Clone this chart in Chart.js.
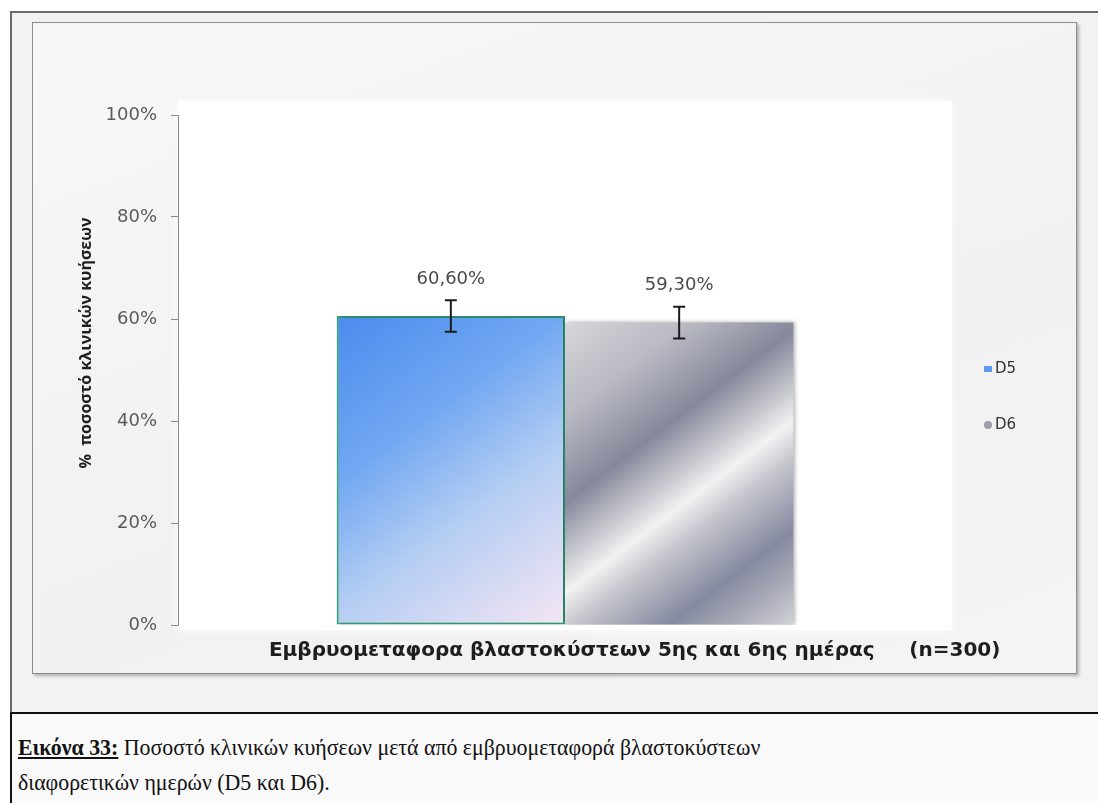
<!DOCTYPE html>
<html>
<head>
<meta charset="utf-8">
<script src="https://cdn.jsdelivr.net/npm/chart.js@4.4.1/dist/chart.umd.min.js"></script>
<style>
  body { margin: 0; background: #fff; width: 1098px; height: 803px; overflow: hidden; position: relative; }
  #frame {
    position: absolute; left: 10px; top: 11px; width: 1100px; height: 700px;
    border-left: 2px solid #6b6b6b; border-top: 2px solid #6b6b6b;
    background: #f2f2f2;
  }
  #card {
    position: absolute; left: 32px; top: 22px; width: 1043px; height: 650px;
    border: 1px solid #8d8d8d;
    box-shadow: 2px 2px 3px rgba(0,0,0,0.28);
    background: linear-gradient(160deg, #f7f7f7 0%, #f1f1f1 60%, #f4f4f4 100%);
  }
  #caption {
    position: absolute; left: 10px; top: 712px; width: 1100px; height: 100px;
    border-left: 2px solid #111; border-top: 2px solid #111;
    background: #f9f9f9;
  }
  #caption p {
    margin: 0; position: absolute; left: 6px; top: 16px;
    font-family: "Liberation Serif", "Times New Roman", serif;
    font-size: 24px; line-height: 35px; color: #111;
    transform: scale(0.91, 1); transform-origin: left top; white-space: nowrap;
  }
  #caption u { font-weight: bold; }
</style>
</head>
<body>
<div id="frame"></div>
<div id="card"><canvas id="myChart" width="1043" height="650"></canvas></div>
<div id="caption">
  <p><u>Εικόνα 33:</u> Ποσοστό κλινικών κυήσεων μετά από εμβρυομεταφορά βλαστοκύστεων<br>διαφορετικών ημερών (D5 και D6).</p>
</div>

<script>
// Clinical pregnancy rate for day-5 vs day-6 blastocyst transfer
const categories = [""];
const seriesNames = ["D5", "D6"];
const seriesValues = [60.6, 59.3];
const errorValues = [3.1, 3.1];
const legendColors = ["#5b9af0", "#9c9ca6"];
const yTicks = [0, 20, 40, 60, 80, 100];
const xTitle = "Εμβρυομεταφορα βλαστοκύστεων 5ης και 6ης ημέρας     (n=300)";
const yTitle = "%  ποσοστό κλινικών κυήσεων";

const catPct = 0.59;
const tickFont = "DejaVu Sans";

// bar rectangle for a dataset, from the scales
function barBox(chart, di) {
  const x = chart.scales.x, y = chart.scales.y;
  const center = x.getPixelForValue(0);
  const band = chart.chartArea.width * catPct;
  const left = di === 0 ? center - band / 2 : center;
  return { left: left, right: left + band / 2, top: y.getPixelForValue(seriesValues[di]), bottom: y.getPixelForValue(0) };
}

function blueFill(context) {
  const chart = context.chart;
  if (!chart.chartArea) return legendColors[0];
  const b = barBox(chart, 0);
  const g = chart.ctx.createLinearGradient(b.left, b.top, b.right, b.bottom);
  g.addColorStop(0, "#4b8bee");
  g.addColorStop(0.35, "#72a8f2");
  g.addColorStop(0.62, "#b4cdf3");
  g.addColorStop(0.85, "#dcdcf3");
  g.addColorStop(1, "#f3e6f4");
  return g;
}

function silverFill(context) {
  const chart = context.chart;
  if (!chart.chartArea) return legendColors[1];
  const b = barBox(chart, 1);
  const g = chart.ctx.createLinearGradient(b.left, b.top, b.right, b.bottom);
  g.addColorStop(0, "#d6d6da");
  g.addColorStop(0.2, "#b8b9c2");
  g.addColorStop(0.38, "#85889b");
  g.addColorStop(0.5, "#c9cad0");
  g.addColorStop(0.57, "#f2f2f3");
  g.addColorStop(0.65, "#c4c5cc");
  g.addColorStop(0.8, "#868aa0");
  g.addColorStop(0.9, "#a9abb8");
  g.addColorStop(1, "#d2d2d8");
  return g;
}

// white plot panel behind the bars
const plotPanel = {
  id: "plotPanel",
  beforeDraw(chart) {
    const { ctx, chartArea } = chart;
    ctx.save();
    ctx.fillStyle = "#ffffff";
    ctx.shadowColor = "rgba(255,255,255,0.9)";
    ctx.shadowBlur = 8;
    ctx.fillRect(chartArea.left, chartArea.top - 14, chartArea.width, chartArea.height + 19);
    ctx.restore();
  }
};

// soft shadow under bars
const barShadow = {
  id: "barShadow",
  beforeDatasetDraw(chart) {
    const ctx = chart.ctx;
    ctx.save();
    ctx.shadowColor = "rgba(0,0,0,0.3)";
    ctx.shadowBlur = 4;
    ctx.shadowOffsetX = 2;
    ctx.shadowOffsetY = -1;
  },
  afterDatasetDraw(chart) {
    chart.ctx.restore();
  }
};

// error bars and value labels
const errorBars = {
  id: "errorBars",
  afterDatasetsDraw(chart) {
    const { ctx } = chart;
    const y = chart.scales.y;
    chart.data.datasets.forEach((ds, i) => {
      const bar = chart.getDatasetMeta(i).data[0];
      const v = ds.data[0];
      const e = errorValues[i];
      const top = y.getPixelForValue(v + e);
      const bot = y.getPixelForValue(v - e);
      ctx.save();
      ctx.strokeStyle = "#1b1b1b";
      ctx.lineWidth = 2;
      ctx.beginPath();
      ctx.moveTo(bar.x, top); ctx.lineTo(bar.x, bot);
      ctx.moveTo(bar.x - 6, top); ctx.lineTo(bar.x + 6, top);
      ctx.moveTo(bar.x - 6, bot); ctx.lineTo(bar.x + 6, bot);
      ctx.stroke();
      ctx.fillStyle = "#4a4a4a";
      ctx.font = "18px " + tickFont;
      ctx.textAlign = "center";
      ctx.textBaseline = "middle";
      ctx.fillText(v.toFixed(2).replace(".", ",") + "%", bar.x, top - 21);
      ctx.restore();
    });
  }
};

// axis captions: x under the plot, y rotated on the left
const axisCaptions = {
  id: "axisCaptions",
  afterDraw(chart) {
    const { ctx, chartArea } = chart;
    ctx.save();
    ctx.fillStyle = "#1e1e1e";
    ctx.font = "bold 20px " + tickFont;
    ctx.textAlign = "center";
    ctx.textBaseline = "middle";
    ctx.fillText(xTitle, chartArea.left + chartArea.width * 0.59, chartArea.bottom + 26);
    ctx.translate(chartArea.left - 92, chartArea.top + chartArea.height * 0.447);
    ctx.rotate(-Math.PI / 2);
    ctx.font = "bold 16px 'Open Sans'";
    ctx.fillText(yTitle, 0, 0);
    ctx.restore();
  }
};

// legend to the right of the plot, slightly below its middle
const sideLegend = {
  id: "sideLegend",
  afterDraw(chart) {
    const { ctx, chartArea } = chart;
    const x = chartArea.right + 32;
    const y0 = (chartArea.top + chartArea.bottom) / 2 - 1;
    ctx.save();
    ctx.font = "15px " + tickFont;
    ctx.textBaseline = "middle";
    seriesNames.forEach((name, i) => {
      const y = y0 + i * 56;
      ctx.fillStyle = legendColors[i];
      if (i === 0) {
        ctx.fillRect(x, y - 3, 8, 6);
      } else {
        ctx.beginPath();
        ctx.arc(x + 4, y, 4, 0, Math.PI * 2);
        ctx.fill();
      }
      ctx.fillStyle = "#333";
      ctx.fillText(name, x + 11, y);
    });
    ctx.restore();
  }
};

const ctx = document.getElementById("myChart").getContext("2d");
const myChart = new Chart(ctx, {
  type: "bar",
  data: {
    labels: categories,
    datasets: [
      {
        label: seriesNames[0],
        data: [seriesValues[0]],
        backgroundColor: blueFill,
        borderColor: "#2fa57e",
        borderWidth: 2,
        borderSkipped: false
      },
      {
        label: seriesNames[1],
        data: [seriesValues[1]],
        backgroundColor: silverFill,
        borderWidth: 0
      }
    ]
  },
  options: {
    responsive: false,
    animation: false,
    datasets: { bar: { barPercentage: 1, categoryPercentage: catPct } },
    layout: { padding: { left: 40, top: 92, right: 124, bottom: 40 } },
    scales: {
      x: {
        grid: { display: false },
        border: { display: false },
        ticks: { display: false }
      },
      y: {
        min: 0,
        max: 100,
        afterBuildTicks: (scale) => { scale.ticks = yTicks.map((v) => ({ value: v })); },
        afterFit: (scale) => { scale.width = 105; },
        ticks: {
          color: "#5a5a5a",
          font: { family: tickFont, size: 18 },
          padding: 14,
          callback: (v) => v + "%"
        },
        grid: { drawOnChartArea: false, tickLength: 7, color: "#8a8a8a" },
        border: { display: true, color: "#8a8a8a" }
      }
    },
    plugins: {
      legend: { display: false },
      tooltip: { enabled: false }
    }
  },
  plugins: [plotPanel, barShadow, errorBars, axisCaptions, sideLegend]
});
</script>
</body>
</html>
